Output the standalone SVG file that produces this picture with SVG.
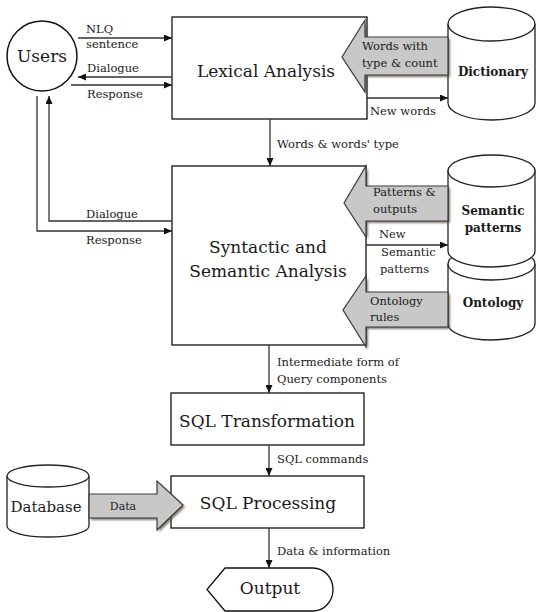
<svg xmlns="http://www.w3.org/2000/svg" width="537" height="612" viewBox="0 0 537 612">
  <style>
    .box { fill: #ffffff; stroke: #111111; stroke-width: 1.3; }
    .cyl { fill: #ffffff; stroke: #222222; stroke-width: 1.3; }
    .conn { fill: none; stroke: #333333; stroke-width: 1.3; }
    .fat { fill: #c8c8c8; stroke: #3a3a3a; stroke-width: 1.2; }
    .shadow { fill: #5a5040; opacity: 0.75; }
    .big { font-family: "DejaVu Serif", "Liberation Serif", serif; font-size: 17px; fill: #1a1a1a; }
    .lbl { font-family: "DejaVu Serif", "Liberation Serif", serif; font-size: 11.5px; fill: #1a1a1a; }
    .bold { font-family: "DejaVu Serif", "Liberation Serif", serif; font-size: 12px; font-weight: bold; fill: #1a1a1a; }
  </style>
  <defs>
    <marker id="arrow" markerUnits="userSpaceOnUse" markerWidth="8" markerHeight="7" refX="8" refY="3.5" orient="auto">
      <path d="M0,0 L8,3.5 L0,7 z" fill="#111111"/>
    </marker>
    <filter id="soft" x="-10%" y="-10%" width="130%" height="130%">
      <feGaussianBlur stdDeviation="0.8"/>
    </filter>
  </defs>

  <rect width="537" height="612" fill="#ffffff"/>

  <!-- Users -->
  <g id="users">
    <circle cx="42" cy="56" r="35" fill="#ffffff" stroke="#111111" stroke-width="1.5"/>
    <text class="big" x="42" y="62" text-anchor="middle">Users</text>
  </g>

  <!-- Lexical Analysis -->
  <g id="lexical">
    <rect class="box" x="172" y="17" width="195" height="102"/>
    <text class="big" x="266" y="77" text-anchor="middle">Lexical Analysis</text>
  </g>

  <!-- Syntactic and Semantic Analysis -->
  <g id="syntactic">
    <rect class="box" x="172" y="166" width="194" height="179"/>
    <text class="big" x="268" y="253" text-anchor="middle">Syntactic and</text>
    <text class="big" x="268" y="277" text-anchor="middle">Semantic Analysis</text>
  </g>

  <!-- SQL Transformation -->
  <g id="sql-transformation">
    <rect class="box" x="171" y="393" width="193" height="52"/>
    <text class="big" x="267" y="427" text-anchor="middle">SQL Transformation</text>
  </g>

  <!-- SQL Processing -->
  <g id="sql-processing">
    <rect class="box" x="171" y="476" width="193" height="52"/>
    <text class="big" x="268" y="509" text-anchor="middle">SQL Processing</text>
  </g>

  <!-- Output (display shape) -->
  <g id="output">
    <path class="box" d="M225,568 L313,568 A20,21.5 0 0 1 313,611 L225,611 L207,589.5 Z"/>
    <text class="big" x="270" y="594" text-anchor="middle">Output</text>
  </g>

  <!-- Dictionary store -->
  <g id="dictionary">
    <path class="cyl" d="M448,24 L448,103 A43.5,17 0 0 0 535,103 L535,24"/>
    <ellipse class="cyl" cx="491.5" cy="24" rx="43.5" ry="17"/>
    <text class="bold" x="493" y="76" text-anchor="middle">Dictionary</text>
  </g>

  <!-- Ontology store (drawn before the pattern store that overlaps it) -->
  <g id="ontology">
    <path class="cyl" d="M448,264 L448,324 A43.5,16 0 0 0 535,324 L535,264"/>
    <ellipse class="cyl" cx="491.5" cy="264" rx="43.5" ry="16"/>
    <text class="bold" x="493" y="307" text-anchor="middle">Ontology</text>
  </g>

  <!-- Semantic patterns store -->
  <g id="semantic-patterns">
    <path class="cyl" d="M448,171 L448,251 A43.5,16 0 0 0 535,251 L535,171 Z"/>
    <ellipse class="cyl" cx="491.5" cy="171" rx="43.5" ry="16"/>
    <text class="bold" x="493" y="215" text-anchor="middle">Semantic</text>
    <text class="bold" x="493" y="232" text-anchor="middle">patterns</text>
  </g>

  <!-- Database store -->
  <g id="database">
    <path class="cyl" d="M7,476 L7,526 A41,11 0 0 0 89,526 L89,476"/>
    <ellipse class="cyl" cx="48" cy="476" rx="41" ry="11"/>
    <text class="big" x="46" y="512" text-anchor="middle" style="font-size:15px">Database</text>
  </g>

  <!-- Connectors -->
  <g id="connectors">
    <line class="conn" x1="78" y1="38" x2="172" y2="38" marker-end="url(#arrow)"/>
    <line class="conn" x1="172" y1="77" x2="78" y2="77" marker-end="url(#arrow)"/>
    <line class="conn" x1="71" y1="85" x2="172" y2="85" marker-end="url(#arrow)"/>
    <polyline class="conn" points="172,221 49,221 49,96" marker-end="url(#arrow)"/>
    <polyline class="conn" points="37,96 37,231 172,231" marker-end="url(#arrow)"/>
    <line class="conn" x1="270" y1="119" x2="270" y2="166" marker-end="url(#arrow)"/>
    <line class="conn" x1="367" y1="98" x2="448" y2="98" marker-end="url(#arrow)"/>
    <line class="conn" x1="366" y1="245" x2="448" y2="245" marker-end="url(#arrow)"/>
    <line class="conn" x1="269" y1="345" x2="269" y2="393" marker-end="url(#arrow)"/>
    <line class="conn" x1="269" y1="445" x2="269" y2="476" marker-end="url(#arrow)"/>
    <line class="conn" x1="269" y1="528" x2="269" y2="568" marker-end="url(#arrow)"/>

    <!-- wide data-flow arrows -->
    <polygon class="shadow" filter="url(#soft)" points="450,39 367,39 367,22 344,59 367,94 367,77 450,77"/>
    <polygon class="fat" points="448,37 365,37 365,20 342,57 365,92 365,75 448,75"/>

    <polygon class="shadow" filter="url(#soft)" points="450,188 368,188 368,168 346,205 368,239 368,223 450,223"/>
    <polygon class="fat" points="448,186 366,186 366,166 344,203 366,237 366,221 448,221"/>

    <polygon class="shadow" filter="url(#soft)" points="450,294 368,294 368,278 345,312 368,349 368,329 450,329"/>
    <polygon class="fat" points="448,292 366,292 366,276 343,310 366,347 366,327 448,327"/>

    <polygon class="shadow" filter="url(#soft)" points="91,496 159,496 159,483 185,507 159,532 159,520 91,520"/>
    <polygon class="fat" points="89,494 157,494 157,481 183,505 157,530 157,518 89,518"/>
  </g>

  <!-- Connector labels -->
  <g id="labels">
    <text class="lbl" x="86" y="33">NLQ</text>
    <text class="lbl" x="86" y="48">sentence</text>
    <text class="lbl" x="87" y="72">Dialogue</text>
    <text class="lbl" x="87" y="98">Response</text>
    <text class="lbl" x="86" y="218">Dialogue</text>
    <text class="lbl" x="86" y="244">Response</text>
    <text class="lbl" x="277" y="148">Words &amp; words' type</text>
    <text class="lbl" x="362" y="50">Words with</text>
    <text class="lbl" x="362" y="67">type &amp; count</text>
    <text class="lbl" x="370" y="115">New words</text>
    <text class="lbl" x="373" y="196">Patterns &amp;</text>
    <text class="lbl" x="373" y="213">outputs</text>
    <text class="lbl" x="379" y="238">New</text>
    <text class="lbl" x="381" y="256">Semantic</text>
    <text class="lbl" x="380" y="273">patterns</text>
    <text class="lbl" x="370" y="305">Ontology</text>
    <text class="lbl" x="370" y="321">rules</text>
    <text class="lbl" x="277" y="366">Intermediate form of</text>
    <text class="lbl" x="277" y="383">Query components</text>
    <text class="lbl" x="277" y="463">SQL commands</text>
    <text class="lbl" x="277" y="555">Data &amp; information</text>
    <text class="lbl" x="123" y="510" text-anchor="middle" style="font-size:11px">Data</text>
  </g>
</svg>
